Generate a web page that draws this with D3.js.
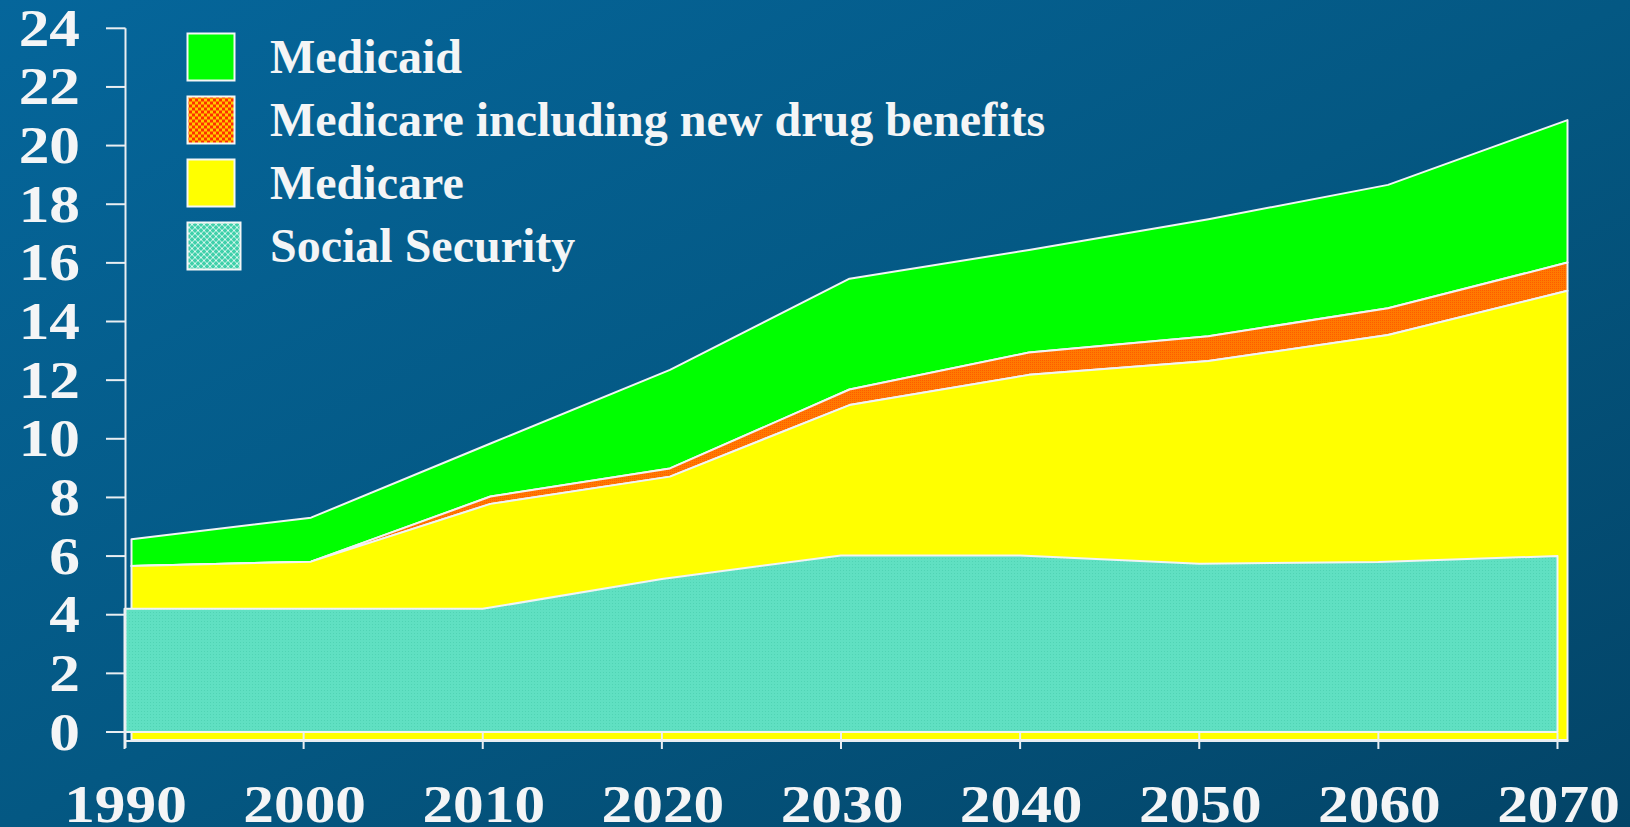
<!DOCTYPE html>
<html>
<head>
<meta charset="utf-8">
<script src="https://cdn.jsdelivr.net/npm/d3@7"></script>
<style>
  body { margin: 0; overflow: hidden; }
</style>
</head>
<body>
<div id="chart"></div>
<script>
////////////////////////////////////////////////////////////////////////
// Data (percent of GDP)

const years = [1990, 2000, 2010, 2020, 2030, 2040, 2050, 2060, 2070];
const socialSecurity = [4.2, 4.2, 4.2, 5.22, 6.02, 6.02, 5.74, 5.8, 6.0];
const medicare = [1.46, 1.61, 3.58, 3.49, 5.13, 6.16, 6.91, 7.74, 9.05];
const drugBenefits = [0, 0, 0.25, 0.28, 0.53, 0.76, 0.85, 0.91, 0.96];
const medicaid = [0.91, 1.5, 1.81, 3.36, 3.78, 3.5, 3.99, 4.21, 4.86];

const yTicks = [0, 2, 4, 6, 8, 10, 12, 14, 16, 18, 20, 22, 24];
const legendLabels = ["Medicaid", "Medicare including new drug benefits", "Medicare", "Social Security"];

////////////////////////////////////////////////////////////////////////
// Layout

let width = 1630;
let height = 827;
let textColor = "#f4f5f6";
let lineColor = "#e9eef2";

let x = d3.scaleLinear().domain([1990, 2070]).range([124.5, 1557.5]);
// the upper bands sit a few pixels right of the Social Security band
let xUpper = d3.scaleLinear().domain([1990, 2070]).range([131.5, 1567.5]);
let y = d3.scaleLinear().domain([0, 24]).range([732, 28.3]);
let yellowFloor = -0.27;

let table = years.map(function (yr, i) {
  return {
    year: yr,
    ss: socialSecurity[i],
    medicare: medicare[i],
    drug: drugBenefits[i],
    medicaid: medicaid[i]
  };
});

let stack = d3.stack().keys(["ss", "medicare", "drug", "medicaid"]);
let series = stack(table);
let byKey = {};
series.forEach(function (s) { byKey[s.key] = s; });

let svg = d3.select("#chart")
  .append("svg")
  .attr("width", width)
  .attr("height", height);

////////////////////////////////////////////////////////////////////////
// Gradient background and fill patterns

let defs = svg.append("defs");

let bg = defs.append("linearGradient")
  .attr("id", "bg")
  .attr("x1", 0).attr("y1", 0)
  .attr("x2", 1).attr("y2", 1);
bg.append("stop").attr("offset", "0%").attr("stop-color", "#05669b");
bg.append("stop").attr("offset", "50%").attr("stop-color", "#045883");
bg.append("stop").attr("offset", "100%").attr("stop-color", "#034467");

// fine dotted turquoise used in the chart
let ssPat = defs.append("pattern")
  .attr("id", "ssFill")
  .attr("patternUnits", "userSpaceOnUse")
  .attr("width", 3).attr("height", 3);
ssPat.append("rect").attr("width", 3).attr("height", 3).attr("fill", "#60e0c2");
ssPat.append("rect").attr("width", 1).attr("height", 1).attr("fill", "#50d4b4");

// lattice turquoise used in the legend swatch
let ssLeg = defs.append("pattern")
  .attr("id", "ssLegend")
  .attr("patternUnits", "userSpaceOnUse")
  .attr("width", 6).attr("height", 6);
ssLeg.append("rect").attr("width", 6).attr("height", 6).attr("fill", "#3fd0aa");
ssLeg.append("path")
  .attr("d", "M0,3 L3,0 L6,3 L3,6 Z")
  .attr("fill", "none")
  .attr("stroke", "#d8f7ee")
  .attr("stroke-width", 1);

// fine orange dots in the chart
let drugPat = defs.append("pattern")
  .attr("id", "drugFill")
  .attr("patternUnits", "userSpaceOnUse")
  .attr("width", 2).attr("height", 2);
drugPat.append("rect").attr("width", 2).attr("height", 2).attr("fill", "#ff7a00");
drugPat.append("rect").attr("width", 1).attr("height", 1).attr("fill", "#ff5a00");

// red / yellow checker in the legend swatch
let drugLeg = defs.append("pattern")
  .attr("id", "drugLegend")
  .attr("patternUnits", "userSpaceOnUse")
  .attr("width", 6).attr("height", 6);
drugLeg.append("rect").attr("width", 6).attr("height", 6).attr("fill", "#ffc800");
drugLeg.append("rect").attr("width", 3).attr("height", 3).attr("fill", "#ff2e00");
drugLeg.append("rect").attr("x", 3).attr("y", 3).attr("width", 3).attr("height", 3).attr("fill", "#ff2e00");

svg.append("rect")
  .attr("width", width)
  .attr("height", height)
  .attr("fill", "url(#bg)");

////////////////////////////////////////////////////////////////////////
// Areas

function band(key, fill, xs, floor) {
  let area = d3.area()
    .x(function (d) { return xs(d.data.year); })
    .y0(function (d) { return floor === undefined ? y(d[0]) : y(floor); })
    .y1(function (d) { return y(d[1]); });
  svg.append("path")
    .datum(byKey[key])
    .attr("d", area)
    .attr("fill", fill)
    .attr("stroke", "#f2f4f4")
    .attr("stroke-width", 2)
    .attr("stroke-linejoin", "round");
}

band("medicaid", "#00ff00", xUpper);
band("drug", "url(#drugFill)", xUpper);
band("medicare", "#ffff00", xUpper, yellowFloor);
band("ss", "url(#ssFill)", x);

////////////////////////////////////////////////////////////////////////
// Axes

let axes = svg.append("g")
  .attr("stroke", lineColor)
  .attr("stroke-width", 2);

axes.append("line")
  .attr("x1", x(1990) + 1).attr("x2", x(1990) + 1)
  .attr("y1", y(24)).attr("y2", 748);

axes.selectAll(".ytick")
  .data(yTicks)
  .enter()
  .append("line")
  .attr("x1", 106).attr("x2", x(1990) + 1)
  .attr("y1", function (d) { return y(d); })
  .attr("y2", function (d) { return y(d); });

axes.append("line")
  .attr("x1", x(1990)).attr("x2", xUpper(2070) + 1)
  .attr("y1", 741).attr("y2", 741);

axes.selectAll(".xtick")
  .data(years)
  .enter()
  .append("line")
  .attr("x1", function (d) { return x(d); })
  .attr("x2", function (d) { return x(d); })
  .attr("y1", 733).attr("y2", 749);

let labelFont = "'Liberation Serif', 'Times New Roman', serif";

svg.selectAll(".ylabel")
  .data(yTicks)
  .enter()
  .append("text")
  .attr("transform", function (d) { return "translate(80," + (y(d) + 17.5) + ") scale(1.18,1)"; })
  .attr("text-anchor", "end")
  .attr("font-family", labelFont)
  .attr("font-weight", "bold")
  .attr("font-size", 52)
  .attr("fill", textColor)
  .text(function (d) { return d; });

svg.selectAll(".xlabel")
  .data(years)
  .enter()
  .append("text")
  .attr("transform", function (d) { return "translate(" + (x(d) + 1) + ",822) scale(1.18,1)"; })
  .attr("text-anchor", "middle")
  .attr("font-family", labelFont)
  .attr("font-weight", "bold")
  .attr("font-size", 52)
  .attr("fill", textColor)
  .text(function (d) { return d; });

////////////////////////////////////////////////////////////////////////
// Legend

let legendFills = ["#00ff00", "url(#drugLegend)", "#ffff00", "url(#ssLegend)"];

let legend = svg.append("g")
  .selectAll("g")
  .data(legendLabels)
  .enter()
  .append("g")
  .attr("transform", function (d, i) { return "translate(0," + (32.5 + i * 63) + ")"; });

legend.append("rect")
  .attr("x", 187.5)
  .attr("y", 1)
  .attr("width", function (d, i) { return i === 3 ? 53 : 47; })
  .attr("height", 47)
  .attr("fill", function (d, i) { return legendFills[i]; })
  .attr("stroke", "#f4f6f6")
  .attr("stroke-width", 2);

legend.append("text")
  .attr("x", 270)
  .attr("y", 40.5)
  .attr("font-family", labelFont)
  .attr("font-weight", "bold")
  .attr("font-size", 48)
  .attr("fill", textColor)
  .text(function (d) { return d; });
</script>
</body>
</html>
